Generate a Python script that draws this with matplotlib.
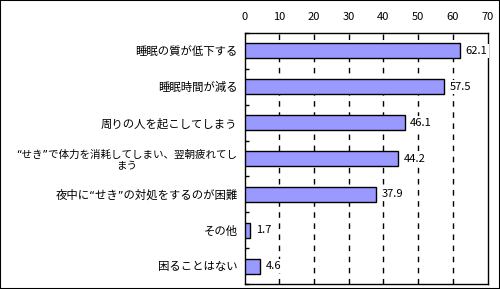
import numpy as np
import matplotlib.pyplot as plt
from matplotlib.patches import Rectangle

plt.rcParams['font.family'] = ['Noto Sans CJK JP', 'DejaVu Sans']

## data, top to bottom as in the reference
categories = [
    "睡眠の質が低下する",
    "睡眠時間が減る",
    "周りの人を起こしてしまう",
    "“せき”で体力を消耗してしまい、翌朝疲れてし\nまう",
    "夜中に“せき”の対処をするのが困難",
    "その他",
    "困ることはない",
]
values = [62.1, 57.5, 46.1, 44.2, 37.9, 1.7, 4.6]
x_ticks = [0, 10, 20, 30, 40, 50, 60, 70]

fig = plt.figure(figsize=(5.0, 2.89), dpi=100)
ax = fig.add_axes([0.489, 0.0173, 0.486, 0.8685])

y = np.arange(len(categories))
bars = ax.barh(y, values, height=0.42, color="#9999FF", edgecolor="black", linewidth=1, zorder=3)

## value labels sit on a white box, hiding the grid behind them
for bar, v in zip(bars, values):
    ax.annotate(f"{v}", xy=(bar.get_width(), bar.get_y() + bar.get_height() / 2),
                xytext=(4, 0), textcoords="offset points",
                ha="left", va="center", fontsize=8, zorder=4,
                bbox=dict(facecolor="white", edgecolor="none", pad=1.5))

ax.set_xlim(0, 70)
ax.set_ylim(len(categories) - 0.5, -0.5)
ax.set_xticks(x_ticks)
ax.xaxis.tick_top()
ax.tick_params(axis="x", length=0, pad=8, labelsize=8)

## category labels on the left, ticks between categories
ax.set_yticks(y)
ax.set_yticklabels(categories, fontsize=8.2, multialignment="center")
for lbl in ax.get_yticklabels():
    lbl.set_fontfamily(["DejaVu Sans", "Noto Sans CJK JP"])
    if "\n" in lbl.get_text():
        lbl.set_fontsize(7.6)
ax.tick_params(axis="y", which="major", length=0, pad=5)
ax.set_yticks(np.arange(-0.5, len(categories), 1.0), minor=True)
ax.tick_params(axis="y", which="minor", direction="in", length=3, width=1)

for gx in x_ticks[1:-1]:
    ax.axvline(gx, color="black", linestyle=(0, (4, 4)), linewidth=1, zorder=1)

for s in ax.spines.values():
    s.set_linewidth(1)

## outer frame of the picture
fig.patches.append(Rectangle((0, 0), 1, 1, transform=fig.transFigure,
                             fill=False, edgecolor="black", linewidth=1.5))

fig.savefig("out.png", dpi=100)
